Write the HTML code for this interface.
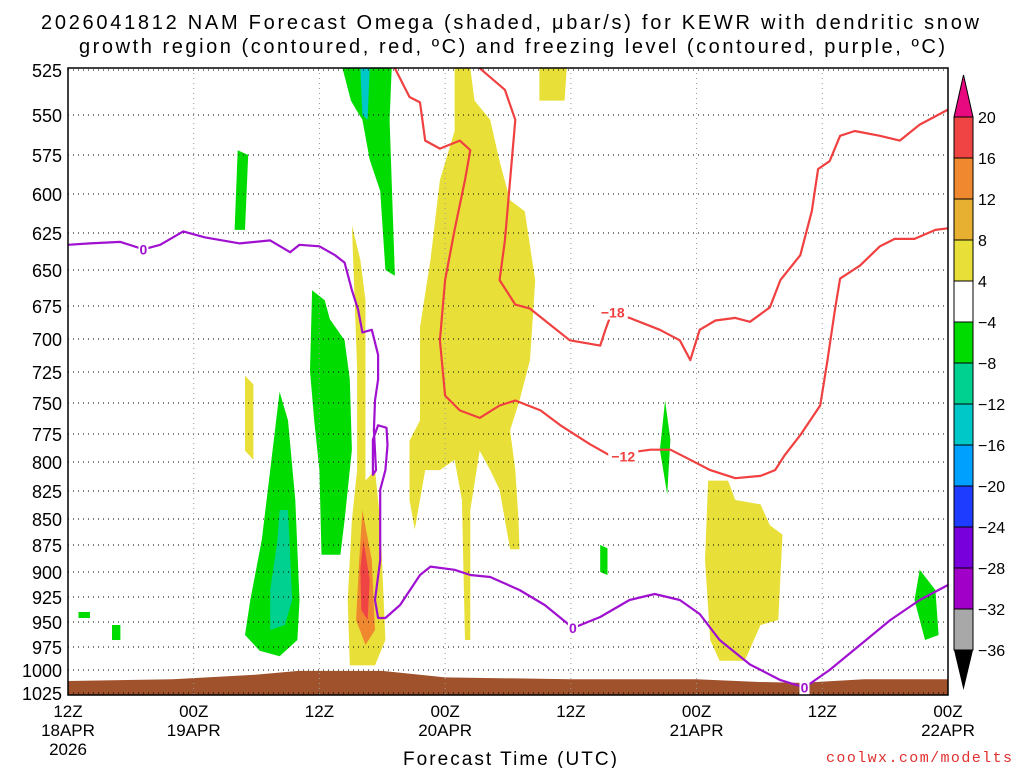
<!DOCTYPE html>
<html><head><meta charset="utf-8">
<style>
body{margin:0;background:#fff;width:1024px;height:768px;overflow:hidden}
svg{display:block;font-family:"Liberation Sans",sans-serif}
</style></head>
<body>
<svg id="chart" width="1024" height="768" xmlns="http://www.w3.org/2000/svg">
<text x="510" y="29" text-anchor="middle" font-size="20" textLength="938" lengthAdjust="spacing">2026041812 NAM Forecast Omega (shaded, μbar/s) for KEWR with dendritic snow</text>
<text x="512" y="53" text-anchor="middle" font-size="20" textLength="866" lengthAdjust="spacing">growth region (contoured, red, ºC) and freezing level (contoured, purple, ºC)</text>
<text x="510" y="765" text-anchor="middle" font-size="19" textLength="214" lengthAdjust="spacing">Forecast Time (UTC)</text>
<text x="1012" y="762" text-anchor="end" font-size="15" fill="#e03030" font-family="Liberation Mono,monospace" textLength="186" lengthAdjust="spacing">coolwx.com/modelts</text>
<g id="shade"></g>
<g id="grid"></g>
<g id="lines"></g>
<g id="axes"></g>
<g id="cbar"></g>
</svg>
<script>
const pressureTicks=[525,550,575,600,625,650,675,700,725,750,775,800,825,850,875,900,925,950,975,1000,1025];
const tickY=[70,115,155,194,233,270,306,339,372,403,434,462,491,519,545,572,597,622,647,670,693];
const hourTicks=[0,12,24,36,48,60,72,84];
const hourLabels=[["12Z","18APR","2026"],["00Z","19APR"],["12Z"],["00Z","20APR"],["12Z"],["00Z","21APR"],["12Z"],["00Z","22APR"]];
const cbarLabels=["20","16","12","8","4","-4","-8","-12","-16","-20","-24","-28","-32","-36"];
const cbarColors=["#f04444","#f08830","#e8b030","#e8e038","#ffffff","#00dc00","#00d090","#00c8c8","#00a0ff","#1e3cff","#7800dc","#a000c8","#a8a8a8"];
const freezingLine=[[0,633],[2.1,632],[5,631],[7.2,636],[8.8,633],[11,624],[13.1,628],[16.4,632],[19.3,630],[21.2,638],[22.1,633],[24,634],[25.5,640],[26.4,645],[27.1,664],[27.7,678],[28.1,695],[29,693],[29.6,712],[29.6,731],[29.3,748],[29.2,772],[29.4,807],[29.1,811],[29.1,780],[29.6,768],[30.4,770],[30.5,785],[30.3,807],[29.8,824],[29.8,889],[29.3,928],[29.6,946],[30.3,946],[31.7,933],[33.6,903],[34.6,895],[36.9,898],[38.4,903],[40.3,905],[43.1,918],[45.5,933],[48.2,956],[50.8,945],[53.6,928],[56,922],[58.4,928],[60.3,942],[62.2,968],[65.1,994],[68,1011],[70.3,1019],[72.7,1000],[75.6,973],[78.5,948],[81.3,928],[84,913]];
const minus18Line=[[39.3,524],[41.7,536],[42.7,553],[42.2,591],[41.7,630],[41.2,657],[42.7,674],[44.1,677],[46,689],[47.9,701],[50.8,705],[51.3,693],[51.9,680],[53.6,684],[56.5,693],[58.4,701],[59.4,716],[60.3,693],[61.8,686],[63.7,684],[65.1,687],[67,676],[68,657],[69.9,640],[71,611],[71.6,584],[72.7,579],[73.7,563],[75.1,560],[77.5,563],[79.4,566],[81.3,556],[84,547]];
const minus12Line=[[31.2,524],[32.6,540],[33.6,543],[34.1,566],[35.5,571],[37.4,566],[38.4,572],[37.9,591],[36.9,623],[36,657],[35.5,701],[36,744],[37.4,756],[39.3,762],[41.2,752],[42.7,748],[45.1,756],[47,768],[49.8,784],[51.7,794],[55.6,789],[57.5,789],[59.4,798],[61.3,807],[63.7,814],[66.1,812],[67.5,807],[68.4,794],[69.9,776],[71.8,752],[72.5,716],[73.2,678],[73.7,656],[75.6,647],[77.5,634],[78.9,629],[80.8,629],[82.8,623],[84,622]];
const surfacePressure=[[0,1012],[10,1010],[18,1005],[22,1001],[30,1001],[36,1008],[48,1010],[60,1010],[66,1013],[70,1014],[76,1010],[84,1010]];
const blobs=[
 ["yellow-main","#e8e038",[[36.9,524],[38.4,524],[38.8,542],[40.3,553],[41.2,579],[42.2,604],[43.6,611],[44.6,657],[44.1,716],[43.1,748],[42.2,772],[42.7,807],[43,851],[43.1,879],[42.2,879],[41.2,824],[40.3,807],[39.3,790],[38.4,842],[38.4,968],[37.9,968],[37.6,833],[36.9,798],[35.5,807],[34.1,807],[33.1,860],[32.6,833],[32.6,781],[33.6,764],[33.6,691],[34.6,643],[35.5,591],[36.9,560]]],
 ["yellow-top","#e8e038",[[45,524],[47.6,524],[47.4,542],[45,542]]],
 ["yellow-21apr","#e8e038",[[61.1,816],[63,816],[63.7,833],[66.1,837],[67,856],[68.2,865],[67.8,948],[66.1,953],[64.6,990],[62.2,990],[61.3,968],[60.8,889]]],
 ["yellow-small","#e8e038",[[16.9,728],[17.7,735],[17.7,798],[16.9,790]]],
 ["yellow-column","#e8e038",[[27.1,620],[27.9,643],[28.4,671],[28.4,816],[29.3,807],[29.8,851],[30.3,968],[29.3,995],[26.9,995],[26.7,928],[27.1,851],[27.6,807],[27.6,722]]],
 ["orange-core","#f08830",[[28.1,842],[29,889],[29.3,958],[28.4,973],[27.5,948],[27.8,889]]],
 ["red-core","#f04444",[[28.2,870],[28.8,908],[28.6,948],[28,938],[27.9,898]]],
 ["green-top","#00dc00",[[26.2,524],[30.9,524],[30.7,553],[31.2,654],[30.3,650],[29.8,598],[28.8,578],[28.1,553],[27.5,547],[27,542]]],
 ["cyan-top","#00c8c8",[[27.9,524],[28.8,524],[28.6,553],[28.1,550]]],
 ["green-mid","#00dc00",[[23.3,664],[24.5,671],[25,685],[26.4,701],[26.9,731],[27.1,789],[26.4,851],[26,884],[24.2,884],[24,807],[23.5,764],[23.1,724]]],
 ["green-low","#00dc00",[[20.2,741],[21,764],[21.7,833],[22.1,928],[21.9,968],[20.2,985],[18.3,979],[16.9,963],[17.4,928],[18.5,870],[19.3,807]]],
 ["teal-low","#00d090",[[20.2,842],[21,842],[21.4,928],[20.7,953],[19.3,958],[19.3,918],[20,870]]],
 ["green-600","#00dc00",[[16.2,572],[17.2,575],[16.9,623],[15.9,623]]],
 ["green-780","#00dc00",[[57,748],[57.5,780],[57.2,828],[56.5,789]]],
 ["green-890","#00dc00",[[50.8,875],[51.5,878],[51.5,903],[50.8,900]]],
 ["green-right","#00dc00",[[81.3,898],[82.8,918],[83.1,963],[81.8,968],[80.8,928]]],
 ["green-a","#00dc00",[[1,940],[2.1,940],[2.1,946],[1,946]]],
 ["green-b","#00dc00",[[4.2,953],[5,953],[5,968],[4.2,968]]]
];
const NS="http://www.w3.org/2000/svg";
const X0=68,X1=948,Y0=68,Y1=695;
function xs(h){return X0+h*(X1-X0)/84;}
function ys(p){
 for(let i=0;i<pressureTicks.length-1;i++){
  if(p<=pressureTicks[i+1]||i==pressureTicks.length-2){
   const t=(p-pressureTicks[i])/(pressureTicks[i+1]-pressureTicks[i]);
   return tickY[i]+t*(tickY[i+1]-tickY[i]);}
 }}
function mk(tag,attrs,parent,txt){const e=document.createElementNS(NS,tag);for(const k in attrs)e.setAttribute(k,attrs[k]);if(txt!==undefined)e.textContent=txt;parent.appendChild(e);return e;}
function pts(arr){return arr.map(d=>xs(d[0]).toFixed(1)+","+ys(d[1]).toFixed(1)).join(" ");}
const shade=document.getElementById('shade');
for(const b of blobs){
 const e=mk('polygon',{points:pts(b[2]),fill:b[1]},shade);
 
 
}
{
 const top=surfacePressure.map(d=>xs(d[0]).toFixed(1)+","+ys(d[1]).toFixed(1)).join(" ");
 const e=mk('polygon',{points:top+" "+X1+","+Y1+" "+X0+","+Y1,fill:"#a0522d"},shade);
 
 
}
const grid=document.getElementById('grid');
pressureTicks.forEach((p,i)=>{
 const y=ys(p);
 const l=mk('line',{x1:X0,x2:X1,y1:y,y2:y,stroke:"#000","stroke-width":1,"stroke-dasharray":"1,4"},grid);
 
 
});
hourTicks.forEach(h=>{
 const x=xs(h);
 const l=mk('line',{x1:x,x2:x,y1:Y0,y2:Y1,stroke:"#999","stroke-width":1,"stroke-dasharray":"1,4"},grid);
 
 
});
const lines=document.getElementById('lines');
function drawLine(arr,color,name){
 const e=mk('polyline',{points:pts(arr),fill:"none",stroke:color,"stroke-width":2.2,"stroke-linejoin":"round"},lines);
 
 
}
drawLine(freezingLine,"#a010d0","freezing-level-line");
drawLine(minus18Line,"#f04040","minus18-contour");
drawLine(minus12Line,"#f04040","minus12-contour");
function lbl(h,p,t,c,name){
 const x=xs(h),y=ys(p);
 const r=mk('rect',{x:x-(t.length*5),y:y-8,width:t.length*10,height:15,fill:"#fff"},lines);
 
 
 const e=mk('text',{x:x,y:y+5,"text-anchor":"middle","font-size":14,"font-weight":"bold",fill:c},lines,t);
 
 
}
lbl(7.2,636,"0","#a010d0","freezing-label-1");
lbl(48.2,956,"0","#a010d0","freezing-label-2");
lbl(70.3,1019,"0","#a010d0","freezing-label-3");
lbl(52,680,"−18","#f04040","minus18-label");
lbl(53,795,"−12","#f04040","minus12-label");
const axes=document.getElementById('axes');
{const r=mk('rect',{x:X0,y:Y0,width:X1-X0,height:Y1-Y0,fill:"none",stroke:"#000","stroke-width":1.5},axes);
 
 }
pressureTicks.forEach(p=>{
 const y=ys(p);
 const t=mk('text',{x:62,y:y+7,"text-anchor":"end","font-size":18},axes,String(p));
 
 
});
hourTicks.forEach((h,i)=>{
 const x=xs(h);
 hourLabels[i].forEach((s,j)=>{
  const t=mk('text',{x:x,y:717+j*19,"text-anchor":"middle","font-size":17},axes,s);
  
  
 });
});
const cbar=document.getElementById('cbar');
const CX=954,CW=19,CT=117,CS=41;
{const t=mk('polygon',{points:`${CX},${CT} ${CX+CW},${CT} ${CX+CW/2},75`,fill:"#e8087f",stroke:"#000"},cbar);
 
 }
cbarColors.forEach((c,i)=>{
 const r=mk('rect',{x:CX,y:CT+i*CS,width:CW,height:CS,fill:c,stroke:"#000","stroke-width":1},cbar);
 
 
});
{const yb=CT+cbarColors.length*CS;
 const t=mk('polygon',{points:`${CX},${yb} ${CX+CW},${yb} ${CX+CW/2},690`,fill:"#000"},cbar);
 
 }
cbarLabels.forEach((s,i)=>{
 const t=mk('text',{x:978,y:CT+i*CS+6,"font-size":16},cbar,s.replace('-','−'));
 
 
});
</script>
</body></html>
